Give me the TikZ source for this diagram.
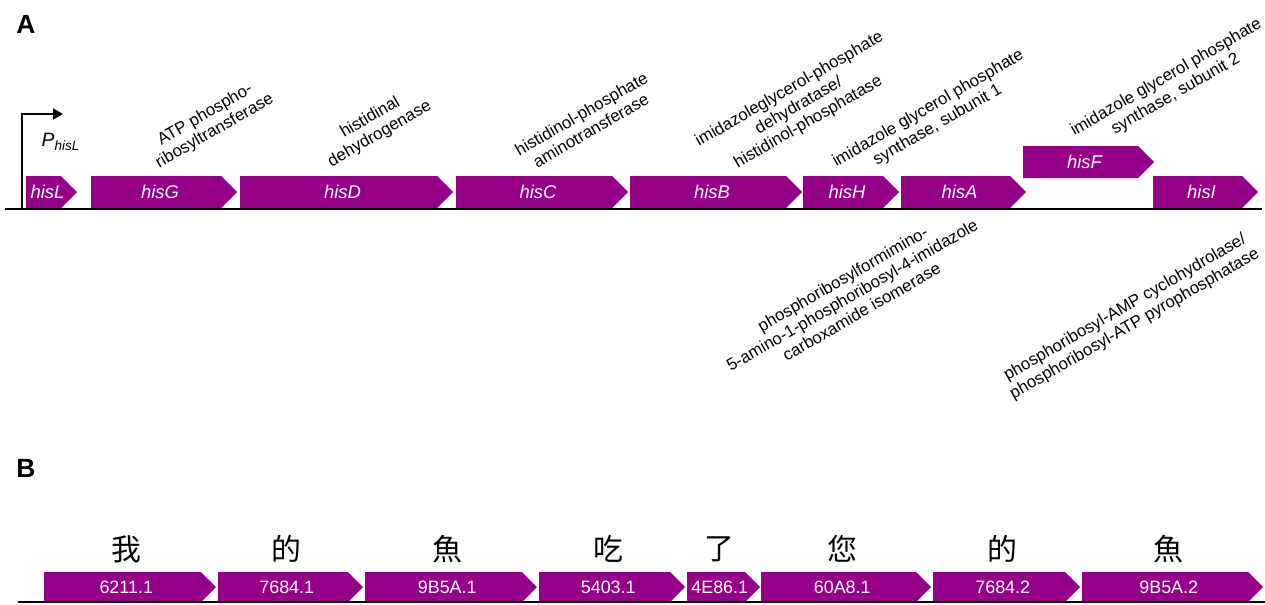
\documentclass[tikz,border=0pt]{standalone}
\usepackage{fontspec}
\setmainfont{Liberation Sans}
\newfontfamily\cjk{Noto Sans CJK TC}
\usetikzlibrary{arrows.meta}

\definecolor{genepurple}{RGB}{150,0,136}

% 基因箭头: [高度]{名称}{左端}{尖端}{上沿}{标签}
\newcommand{\genebox}[6][32]{%
  \fill[genefill] (#3,#5) -- ({#4-#1/2},#5) -- (#4,{#5+#1/2})
    -- ({#4-#1/2},{#5+#1}) -- (#3,{#5+#1}) -- cycle;
  \node[genelabel] (#2) at ({(#3+#4-#1/4)/2},{#5+#1/2}) {#6};}

\begin{document}
\begin{tikzpicture}[
    x=0.02cm, y=-0.02cm,
    genefill/.style={fill=genepurple},
    genelabel/.style={text=white, inner sep=0pt, font=\fontsize{10.2}{12}\selectfont},
    note/.style={rotate=30, align=center, inner sep=0pt, font=\fontsize{9.6}{10.8}\selectfont},
    backbone/.style={line width=1.7pt},
    panel/.style={font=\fontsize{15}{18}\selectfont\bfseries},
    hanzi/.style={inner sep=0pt, font=\cjk\fontsize{17}{20}\selectfont},
    >={Triangle[length=2mm, width=2.2mm]}
]
    \useasboundingbox (0,0) rectangle (1265,605);

    % A 部分
    \node[panel] (A) at (26,24) {A};

    % 启动子
    \coordinate (tss) at (22,209);
    \coordinate (tssTop) at (22,114);
    \coordinate (tssEnd) at (63,114);
    \draw[line width=1.1pt, ->] (tss) -- (tssTop) -- (tssEnd);
    \node[inner sep=0pt, font=\fontsize{11}{13}\selectfont] (P) at (61,142)
        {\textit{P}\textsubscript{\textit{hisL}}};

    % 基因
    \begin{scope}[genelabel/.append style={font=\fontsize{10.5}{12}\selectfont\itshape}]
    \genebox{hisL}{26}{77}{176}{hisL}
    \genebox{hisG}{91}{237}{176}{hisG}
    \genebox{hisD}{240}{453}{176}{hisD}
    \genebox{hisC}{456}{628}{176}{hisC}
    \genebox{hisB}{630}{802}{176}{hisB}
    \genebox{hisH}{803}{899}{176}{hisH}
    \genebox{hisA}{901}{1026}{176}{hisA}
    \genebox{hisF}{1023}{1154}{146}{hisF}
    \genebox{hisI}{1153}{1258}{176}{hisI}
    \end{scope}

    \coordinate (aL) at (5,209);
    \coordinate (aR) at (1262,209);
    \draw[backbone] (aL) -- (aR);

    % 注释
    \node[note] (nG) at (210,123) {ATP phospho-\\ribosyltransferase};
    \node[note] (nD) at (375,126) {histidinal\\dehydrogenase};
    \node[note] (nC) at (586,122) {histidinol-phosphate\\aminotransferase};
    \node[note] (nB) at (799,106) {imidazoleglycerol-phosphate\\dehydratase/\\histidinol-phosphatase};
    \node[note] (nH) at (933,117) {imidazole glycerol phosphate\\synthase, subunit 1};
    \node[note] (nF) at (1171,86) {imidazole glycerol phosphate\\synthase, subunit 2};
    \node[note] (nA) at (852,295) {phosphoribosylformimino-\\5-amino-1-phosphoribosyl-4-imidazole\\carboxamide isomerase};
    \node[note] (nI) at (1130,316) {phosphoribosyl-AMP cyclohydrolase/\\phosphoribosyl-ATP pyrophosphatase};

    % B 部分
    \node[panel] (B) at (26,468) {B};

    \genebox[30]{b1}{44}{216}{572}{6211.1}
    \genebox[30]{b2}{218}{363}{572}{7684.1}
    \genebox[30]{b3}{365}{537}{572}{9B5A.1}
    \genebox[30]{b4}{539}{685}{572}{5403.1}
    \genebox[30]{b5}{687}{760}{572}{4E86.1}
    \genebox[30]{b6}{761}{931}{572}{60A8.1}
    \genebox[30]{b7}{933}{1080}{572}{7684.2}
    \genebox[30]{b8}{1082}{1263}{572}{9B5A.2}

    \coordinate (bL) at (18,602);
    \coordinate (bR) at (1265,602);
    \draw[backbone] (bL) -- (bR);

    % 汉字
    \node[hanzi] (c1) at (b1 |- 0,549) {我};
    \node[hanzi] (c2) at (b2 |- 0,549) {的};
    \node[hanzi] (c3) at (b3 |- 0,549) {魚};
    \node[hanzi] (c4) at (b4 |- 0,549) {吃};
    \node[hanzi] (c5) at (b5 |- 0,549) {了};
    \node[hanzi] (c6) at (b6 |- 0,549) {您};
    \node[hanzi] (c7) at (b7 |- 0,549) {的};
    \node[hanzi] (c8) at (b8 |- 0,549) {魚};

\end{tikzpicture}
\end{document}
